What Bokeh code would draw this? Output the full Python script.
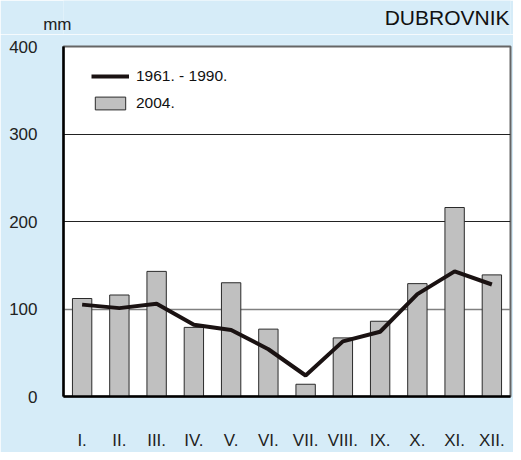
from bokeh.plotting import figure
from bokeh.layouts import column
from bokeh.models import FactorRange, Range1d, Legend, LegendItem, FixedTicker, ColumnDataSource
from bokeh.core.properties import value
from bokeh.embed import file_html
from bokeh.resources import INLINE

months = ["I.", "II.", "III.", "IV.", "V.", "VI.", "VII.", "VIII.", "IX.", "X.", "XI.", "XII."]
rain_2004 = [112, 116, 143, 79, 130, 77, 14, 67, 86, 129, 216, 139]
rain_1961_1990 = [105, 101, 106, 82, 76, 54, 24, 63, 74, 117, 143, 128]
y_ticks = [0, 100, 200, 300, 400]
grid_levels = [100, 200, 300]
unit_label = "mm"
station = "DUBROVNIK"

BG = "#D6ECF8"
FONT = "Liberation Sans"
W = 513
H = 452
HEAD_H = 34
LEFT = 63
RIGHT = 3

# header strip: unit (as a tick label of its left axis) and station name
head = figure(width=W, height=HEAD_H, x_range=Range1d(LEFT, W - RIGHT), y_range=Range1d(0, HEAD_H),
              x_axis_type=None, output_backend="svg", toolbar_location=None,
              min_border_left=LEFT, min_border_right=RIGHT, min_border_top=0, min_border_bottom=0)
head.background_fill_color = BG
head.border_fill_color = BG
head.outline_line_color = None
head.xgrid.grid_line_color = None
head.ygrid.grid_line_color = None
hy = head.yaxis[0]
hy.ticker = FixedTicker(ticks=[10])
hy.major_label_overrides = {10: unit_label}
hy.axis_line_color = None
hy.major_tick_line_color = None
hy.minor_tick_line_color = None
hy.major_tick_out = 0
hy.major_tick_in = 0
hy.major_label_standoff = -8
hy.major_label_text_font = FONT
hy.major_label_text_font_size = "17px"
hy.major_label_text_color = "#222222"
head.text(x=[W - 4], y=[HEAD_H - 17], text=[station], text_baseline="middle", text_align="right",
          text_font=value(FONT), text_font_size="21px", text_color="#111111")

src = ColumnDataSource(dict(m=months, r04=rain_2004, rav=rain_1961_1990))

p = figure(x_range=FactorRange(*months, range_padding=0), y_range=Range1d(0, 400),
           width=W, height=H - HEAD_H, output_backend="svg", toolbar_location=None,
           min_border_left=LEFT, min_border_right=RIGHT, min_border_top=12, min_border_bottom=49)
p.background_fill_color = "white"
p.border_fill_color = BG
p.outline_line_color = "#666666"
p.outline_line_width = 2

grid = p.hspan(y=grid_levels, line_color=["#808080", "#222222", "#222222"], line_width=[1.5, 1, 1])
grid.level = "underlay"

bars = p.vbar(x="m", top="r04", width=0.52, source=src, fill_color="#C0C0C0",
              line_color="#2a2a2a", line_width=1)
line = p.line(x="m", y="rav", source=src, line_color="#1a1212", line_width=4)

p.xgrid.grid_line_color = None
p.ygrid.grid_line_color = None
p.yaxis.ticker = FixedTicker(ticks=y_ticks)

for ax in (p.xaxis[0], p.yaxis[0]):
    ax.axis_line_color = "black"
    ax.axis_line_width = 2.5
    ax.major_tick_line_color = None
    ax.minor_tick_line_color = None
    ax.major_label_text_font = FONT
    ax.major_label_text_font_size = "17px"
    ax.major_label_text_color = "#222222"
p.yaxis.major_label_standoff = 20
p.xaxis.major_label_standoff = 28

legend = Legend(items=[LegendItem(label="1961. - 1990.", renderers=[line]),
                       LegendItem(label="2004.", renderers=[bars])],
                location=(28, 284), margin=0, padding=0,
                glyph_width=38, glyph_height=16, label_height=16, spacing=9,
                label_standoff=7, label_text_font=FONT, label_text_font_size="15.5px",
                label_text_color="#111111",
                background_fill_alpha=0, border_line_color=None)
p.add_layout(legend, "center")

layout = column(head, p, spacing=0)
open("out.html", "w").write(file_html(layout, INLINE))
